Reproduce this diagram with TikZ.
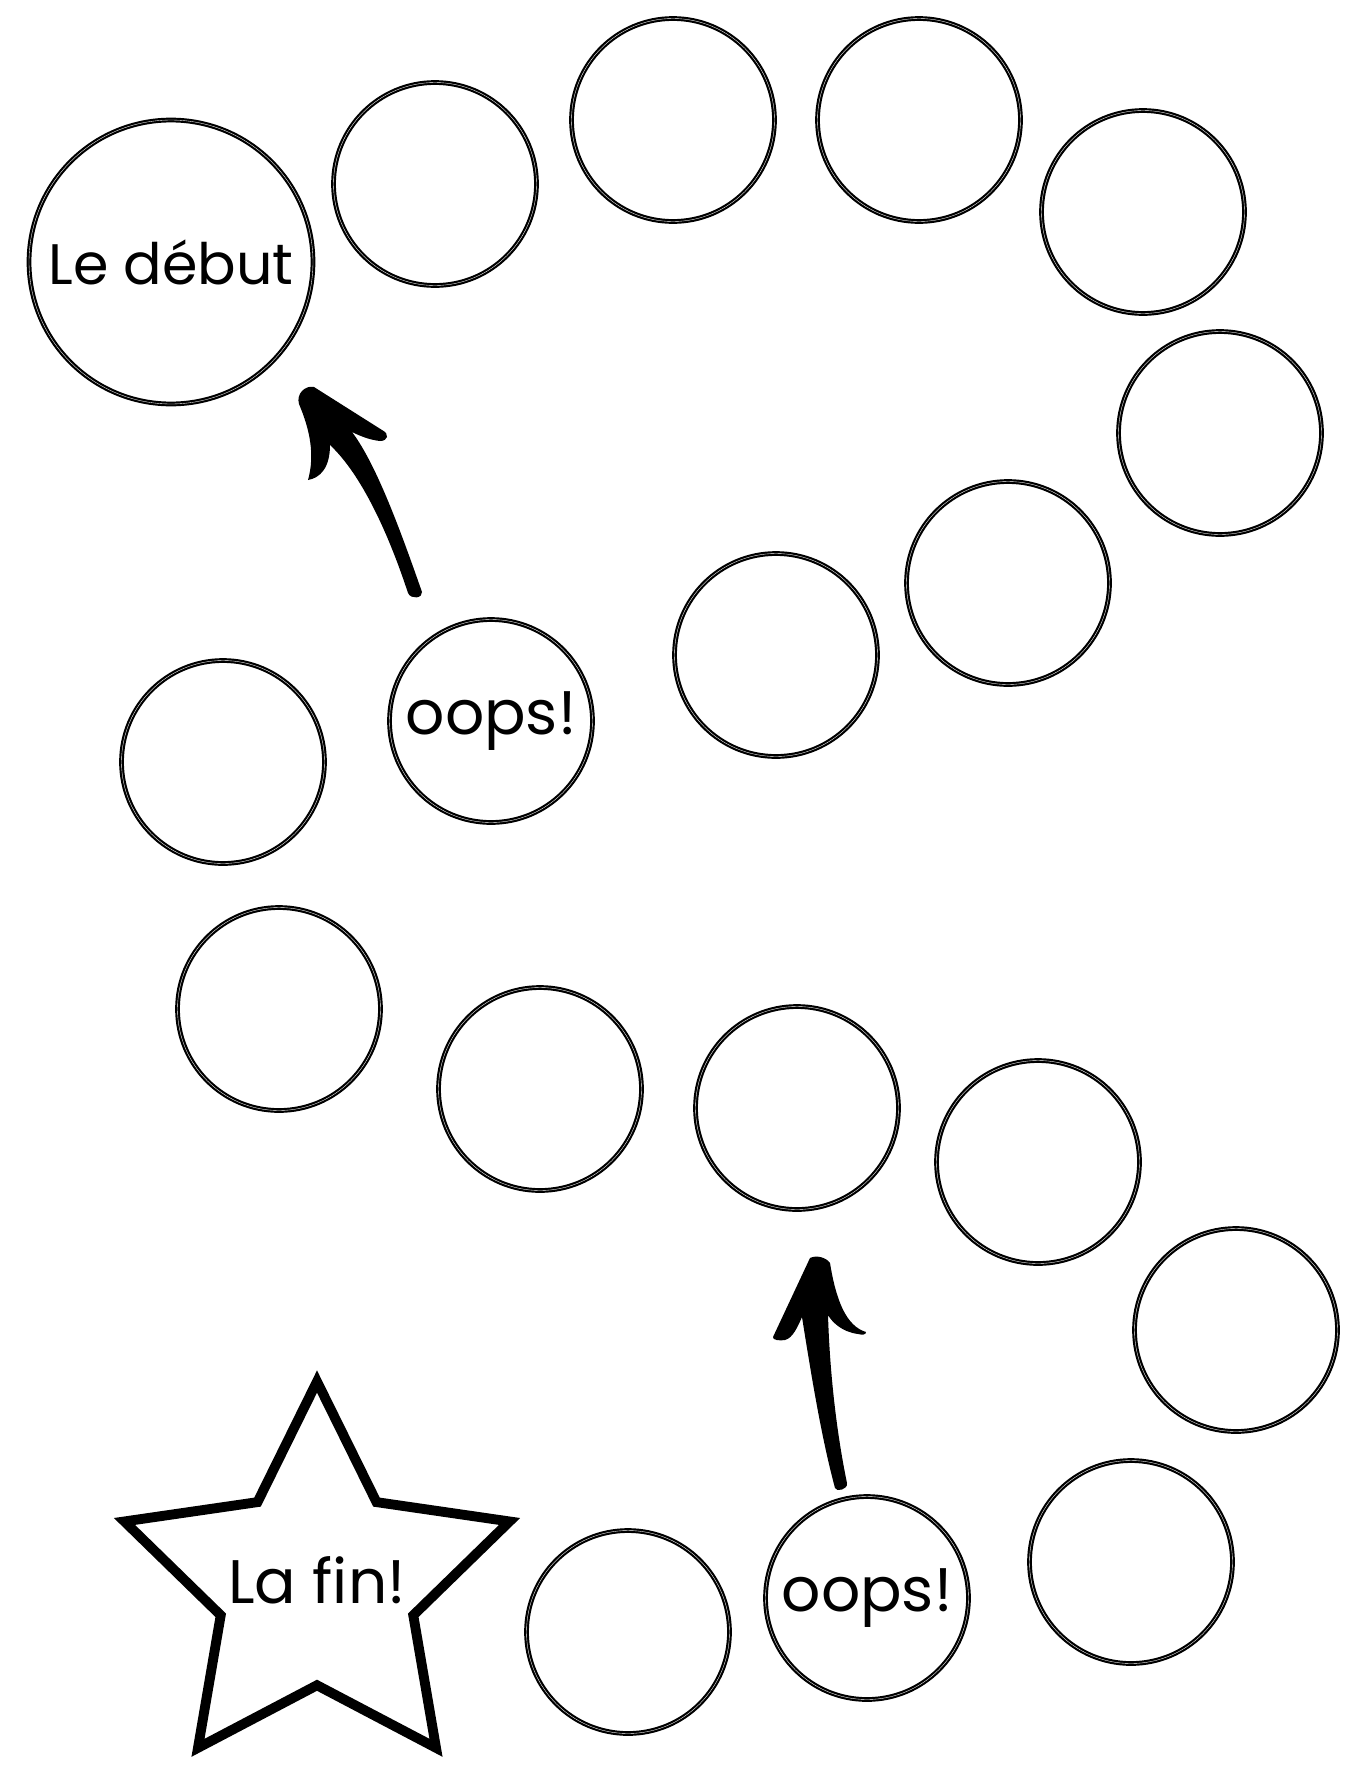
\documentclass[tikz,border=0pt]{standalone}
\usepackage{fontspec}
\setmainfont{Poppins}
\usetikzlibrary{shapes.geometric}
\tikzset{
	spot/.style={circle, draw, line width=1.25pt, double=white, double distance=0.2pt, minimum size=4.06cm, inner sep=0pt},
	word/.style={font=\fontsize{35}{42}\selectfont},
	goal/.style={star, star points=5, star point ratio=2.0, draw, line width=5.6pt, minimum size=8.1cm, inner sep=0pt},
}
\begin{document}
\begin{tikzpicture}[x=0.02cm, y=-0.02cm]
		\useasboundingbox (0,0) rectangle (1346,1765);
		% Start
		\node[spot, word, font=\fontsize{32.5}{40}\selectfont, minimum size=5.68cm] (debut) at (171,262) {Le début};
		% Top row
		\node[spot] (s1) at (435,184) {};
		\node[spot] (s2) at (673,120) {};
		\node[spot] (s3) at (919,120) {};
		\node[spot] (s4) at (1143,212) {};
		\node[spot] (s5) at (1220,433) {};
		% Back to the left
		\node[spot] (s6) at (1008,583) {};
		\node[spot] (s7) at (776,655) {};
		\node[spot, word] (oops1) at (491,721) {oops!};
		\node[spot] (s8) at (223,762) {};
		% Lower row
		\node[spot] (s9) at (279,1009) {};
		\node[spot] (s10) at (540,1089) {};
		\node[spot] (s11) at (797,1108) {};
		\node[spot] (s12) at (1038,1162) {};
		\node[spot] (s13) at (1236,1330) {};
		\node[spot] (s14) at (1131,1562) {};
		\node[spot, word] (oops2) at (867,1598) {oops!};
		\node[spot] (s15) at (628,1632) {};
		% Finish
		\node[goal] (fin) at (317,1584) {};
		\node[word] (fintext) at (317,1580) {La fin!};
		% Arrow back to start
		\fill (308,480) .. controls (315,455) and (310,430) .. (299,404)
			.. controls (296,394) and (305,385) .. (314,387) -- (382,430)
			.. controls (390,434) and (388,441) .. (380,441)
			.. controls (370,440) and (360,436) .. (352,432)
			.. controls (377,465) and (402,535) .. (422,592)
			.. controls (423,598) and (411,600) .. (408,593)
			.. controls (389,535) and (362,475) .. (330,445)
			.. controls (330,468) and (320,478) .. (308,480) -- cycle;
		% Arrow back up
		\fill (810,1258) .. controls (816,1255) and (826,1257) .. (830,1263)
			.. controls (836,1300) and (846,1326) .. (866,1332)
			.. controls (866,1335) and (862,1335) .. (858,1334)
			.. controls (842,1332) and (832,1322) .. (828,1315)
			.. controls (830,1380) and (838,1440) .. (847,1483)
			.. controls (848,1490) and (836,1492) .. (835,1488)
			.. controls (822,1440) and (812,1380) .. (802,1317)
			.. controls (798,1326) and (793,1338) .. (785,1340)
			.. controls (780,1341) and (772,1340) .. (773,1337) -- cycle;
\end{tikzpicture}
\end{document}
